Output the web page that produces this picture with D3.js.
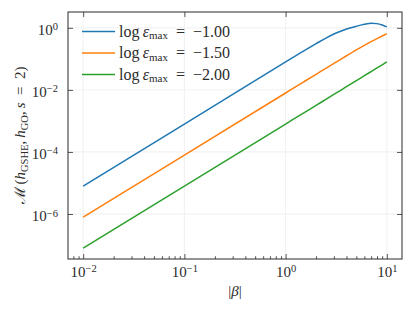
<!DOCTYPE html>
<html>
<head>
<meta charset="utf-8">
<script src="https://cdn.jsdelivr.net/npm/d3@7"></script>
<style>
  html, body { margin: 0; padding: 0; background: #fff; }
  svg { display: block; font-family: "Liberation Serif", "DejaVu Serif", serif; }
</style>
</head>
<body>
<div id="chart"></div>
<script>
// values
const beta = [0.01, 0.1, 1, 1.5, 2, 2.5, 3, 3.5, 4, 5, 6, 7, 8, 9, 10];
const mBlue = [7.9e-6, 7.9e-4, 0.0794, 0.178, 0.309, 0.468, 0.631, 0.776, 0.912, 1.122, 1.303, 1.413, 1.365, 1.23, 1.072];
const mOrange = [7.9e-7, 7.9e-5, 7.94e-3, 0.0179, 0.0318, 0.0495, 0.0714, 0.097, 0.126, 0.194, 0.272, 0.358, 0.45, 0.546, 0.646];
const mGreen = [7.9e-8, 7.9e-6, 7.94e-4, 1.79e-3, 3.16e-3, 4.97e-3, 7.15e-3, 9.7e-3, 0.0127, 0.0199, 0.0286, 0.0389, 0.0508, 0.0643, 0.0794];
const logEps = ["\u22121.00", "\u22121.50", "\u22122.00"];
const colors = ["#1f77b4", "#ff7f0e", "#2ca02c"];

const xMajor = [1e-2, 1e-1, 1, 10];
const xMinor = [];
[1e-3, 1e-2, 1e-1, 1, 10].forEach((d) => {
    for (let k = 2; k <= 9; k++) xMinor.push(d * k);
});
const yMajor = [1, 1e-2, 1e-4, 1e-6];

const width = 414, height = 310;
const margin = { top: 12, right: 12, bottom: 51, left: 68 };
const ink = "#2b2b2b";
const fontSize = 15;

const svg = d3.select("#chart").append("svg")
    .attr("width", width)
    .attr("height", height);

const x = d3.scaleLog()
    .domain([Math.pow(10, -2.15), Math.pow(10, 1.15)])
    .range([margin.left, width - margin.right]);

const y = d3.scaleLog()
    .domain([Math.pow(10, -7.45), Math.pow(10, 0.51)])
    .range([height - margin.bottom, margin.top]);

const x0 = margin.left, x1 = width - margin.right;
const y0 = height - margin.bottom, y1 = margin.top;

// grid
svg.append("g").selectAll("line").data(xMajor).enter().append("line")
    .attr("x1", (d) => x(d)).attr("x2", (d) => x(d))
    .attr("y1", y0).attr("y2", y1)
    .attr("stroke", "#ececec").attr("stroke-width", 0.8);
svg.append("g").selectAll("line").data(yMajor).enter().append("line")
    .attr("y1", (d) => y(d)).attr("y2", (d) => y(d))
    .attr("x1", x0).attr("x2", x1)
    .attr("stroke", "#ececec").attr("stroke-width", 0.8);

// curves
const series = [mBlue, mOrange, mGreen];
const line = d3.line()
    .x((d) => x(d[0]))
    .y((d) => y(d[1]))
    .curve(d3.curveMonotoneX);

series.forEach((s, i) => {
    svg.append("path")
        .attr("d", line(beta.map((b, j) => [b, s[j]])))
        .attr("fill", "none")
        .attr("stroke", colors[i])
        .attr("stroke-width", 1.5);
});

// axes (ticks inward)
function sup(sel, size) {
    sel.each(function (d) {
        const t = d3.select(this);
        const e = Math.round(Math.log10(d));
        t.text(null);
        t.append("tspan").text("10");
        t.append("tspan")
            .attr("dy", "-0.45em")
            .attr("font-size", size)
            .text(e < 0 ? "\u2212" + (-e) : String(e));
    });
}

const bottom = svg.append("g")
    .attr("transform", `translate(0,${y0})`)
    .call(d3.axisBottom(x).tickValues(xMajor).tickSizeInner(-5).tickSizeOuter(0).tickPadding(7));
bottom.selectAll("text").call(sup, "10.5px");

svg.append("g")
    .attr("transform", `translate(0,${y0})`)
    .call(d3.axisBottom(x).tickValues(xMinor.filter((d) => d > x.domain()[0] && d < x.domain()[1]))
        .tickSizeInner(-2.8).tickSizeOuter(0).tickFormat(""));

svg.append("g")
    .attr("transform", `translate(0,${y1})`)
    .call(d3.axisTop(x).tickValues(xMajor).tickSizeInner(-5).tickSizeOuter(0).tickFormat(""));

const left = svg.append("g")
    .attr("transform", `translate(${x0},0)`)
    .call(d3.axisLeft(y).tickValues(yMajor).tickSizeInner(-5).tickSizeOuter(0).tickPadding(10));
left.selectAll("text").call(sup, "10.5px").attr("dy", "0.45em");

svg.append("g")
    .attr("transform", `translate(${x1},0)`)
    .call(d3.axisRight(y).tickValues(yMajor).tickSizeInner(-5).tickSizeOuter(0).tickFormat(""));

svg.selectAll(".domain").remove();
svg.selectAll(".tick line").attr("stroke", ink).attr("stroke-width", 0.8);
svg.selectAll(".tick text")
    .attr("font-family", "Liberation Serif, DejaVu Serif, serif")
    .attr("font-size", fontSize)
    .attr("fill", ink);

// frame
svg.append("rect")
    .attr("x", x0).attr("y", y1)
    .attr("width", x1 - x0).attr("height", y0 - y1)
    .attr("fill", "none")
    .attr("stroke", ink)
    .attr("stroke-width", 1);

// legend
const legend = svg.append("g").attr("transform", "translate(82,31.5)");
logEps.forEach((lab, i) => {
    const g = legend.append("g").attr("transform", `translate(0,${i * 21.5})`);
    g.append("line")
        .attr("x1", 0).attr("x2", 33)
        .attr("stroke", colors[i]).attr("stroke-width", 1.5);
    const t = g.append("text")
        .attr("x", 37).attr("y", 5)
        .attr("font-size", 16)
        .attr("fill", ink);
    t.append("tspan").text("log\u2009");
    t.append("tspan").attr("font-style", "italic").text("\u03b5");
    t.append("tspan").attr("font-size", "11px").attr("dy", "2.5").text("max");
    t.append("tspan").attr("dy", "-2.5").text("\u2002=\u2002" + lab);
});

// x label
const xl = svg.append("text")
    .attr("x", (x0 + x1) / 2)
    .attr("y", 296)
    .attr("text-anchor", "middle")
    .attr("font-size", fontSize)
    .attr("fill", ink);
xl.append("tspan").text("|");
xl.append("tspan").attr("font-style", "italic").text("\u03b2");
xl.append("tspan").text("|");

// y label
const yl = svg.append("text")
    .attr("transform", `translate(25,${(y0 + y1) / 2}) rotate(-90)`)
    .attr("text-anchor", "middle")
    .attr("font-size", fontSize)
    .attr("fill", ink);
yl.append("tspan").attr("font-family", "DejaVu Serif, serif").text("\u2133");
yl.append("tspan").text("\u2009(");
yl.append("tspan").attr("font-style", "italic").text("h");
yl.append("tspan").attr("font-size", "10.5px").attr("dy", "2.5").text("GSHE");
yl.append("tspan").attr("dy", "-2.5").text(",\u2009");
yl.append("tspan").attr("font-style", "italic").text("h");
yl.append("tspan").attr("font-size", "10.5px").attr("dy", "2.5").text("GO");
yl.append("tspan").attr("dy", "-2.5").text(",\u2009");
yl.append("tspan").attr("font-style", "italic").text("s");
yl.append("tspan").text("\u2002=\u20022)");
</script>
</body>
</html>
